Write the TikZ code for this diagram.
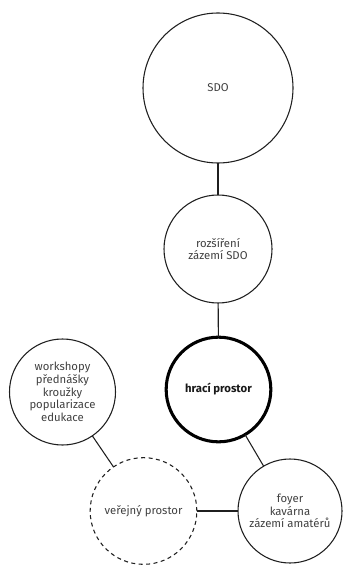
\documentclass[tikz,border=0pt]{standalone}
\usepackage{fontspec}
\setmainfont{Fira Sans}
\begin{document}
\begin{tikzpicture}[x=0.75pt,y=-0.75pt,
  bubble/.style={circle,draw=black!88,line width=0.8pt,inner sep=0pt,outer sep=0pt,
    text=black!75,font=\fontsize{8.5}{9.5}\selectfont,align=center},
  heavy/.style={line width=2.3pt,draw=black,text=black!90,font=\fontsize{8.5}{9.5}\selectfont\bfseries},
  dashedbubble/.style={dash pattern=on 3pt off 2.6pt},
  link/.style={draw=black!88,line width=0.8pt}]
\useasboundingbox (0,0) rectangle (342,566);
\node[bubble,minimum size=112.5pt] (sdo) at (218,88) {SDO};
\node[bubble,minimum size=81pt] (roz) at (218,249) {rozšíření\\zázemí SDO};
\node[bubble,heavy,minimum size=78.5pt] (hra) at (218.5,389.5) {hrací prostor};
\node[bubble,minimum size=79.5pt] (work) at (62.5,392) {workshopy\\přednášky\\kroužky\\popularizace\\edukace};
\node[bubble,dashedbubble,minimum size=80pt] (ver) at (143.5,511) {veřejný prostor};
\node[bubble,minimum size=78pt] (foy) at (290,511) {foyer\\kavárna\\zázemí amatérů};
\draw[link] (sdo) -- (roz);
\draw[link] (roz) -- (hra);
\draw[link] (work) -- (ver);
\draw[link] (hra) -- (foy);
\draw[link] (ver) -- (foy);
\end{tikzpicture}
\end{document}
